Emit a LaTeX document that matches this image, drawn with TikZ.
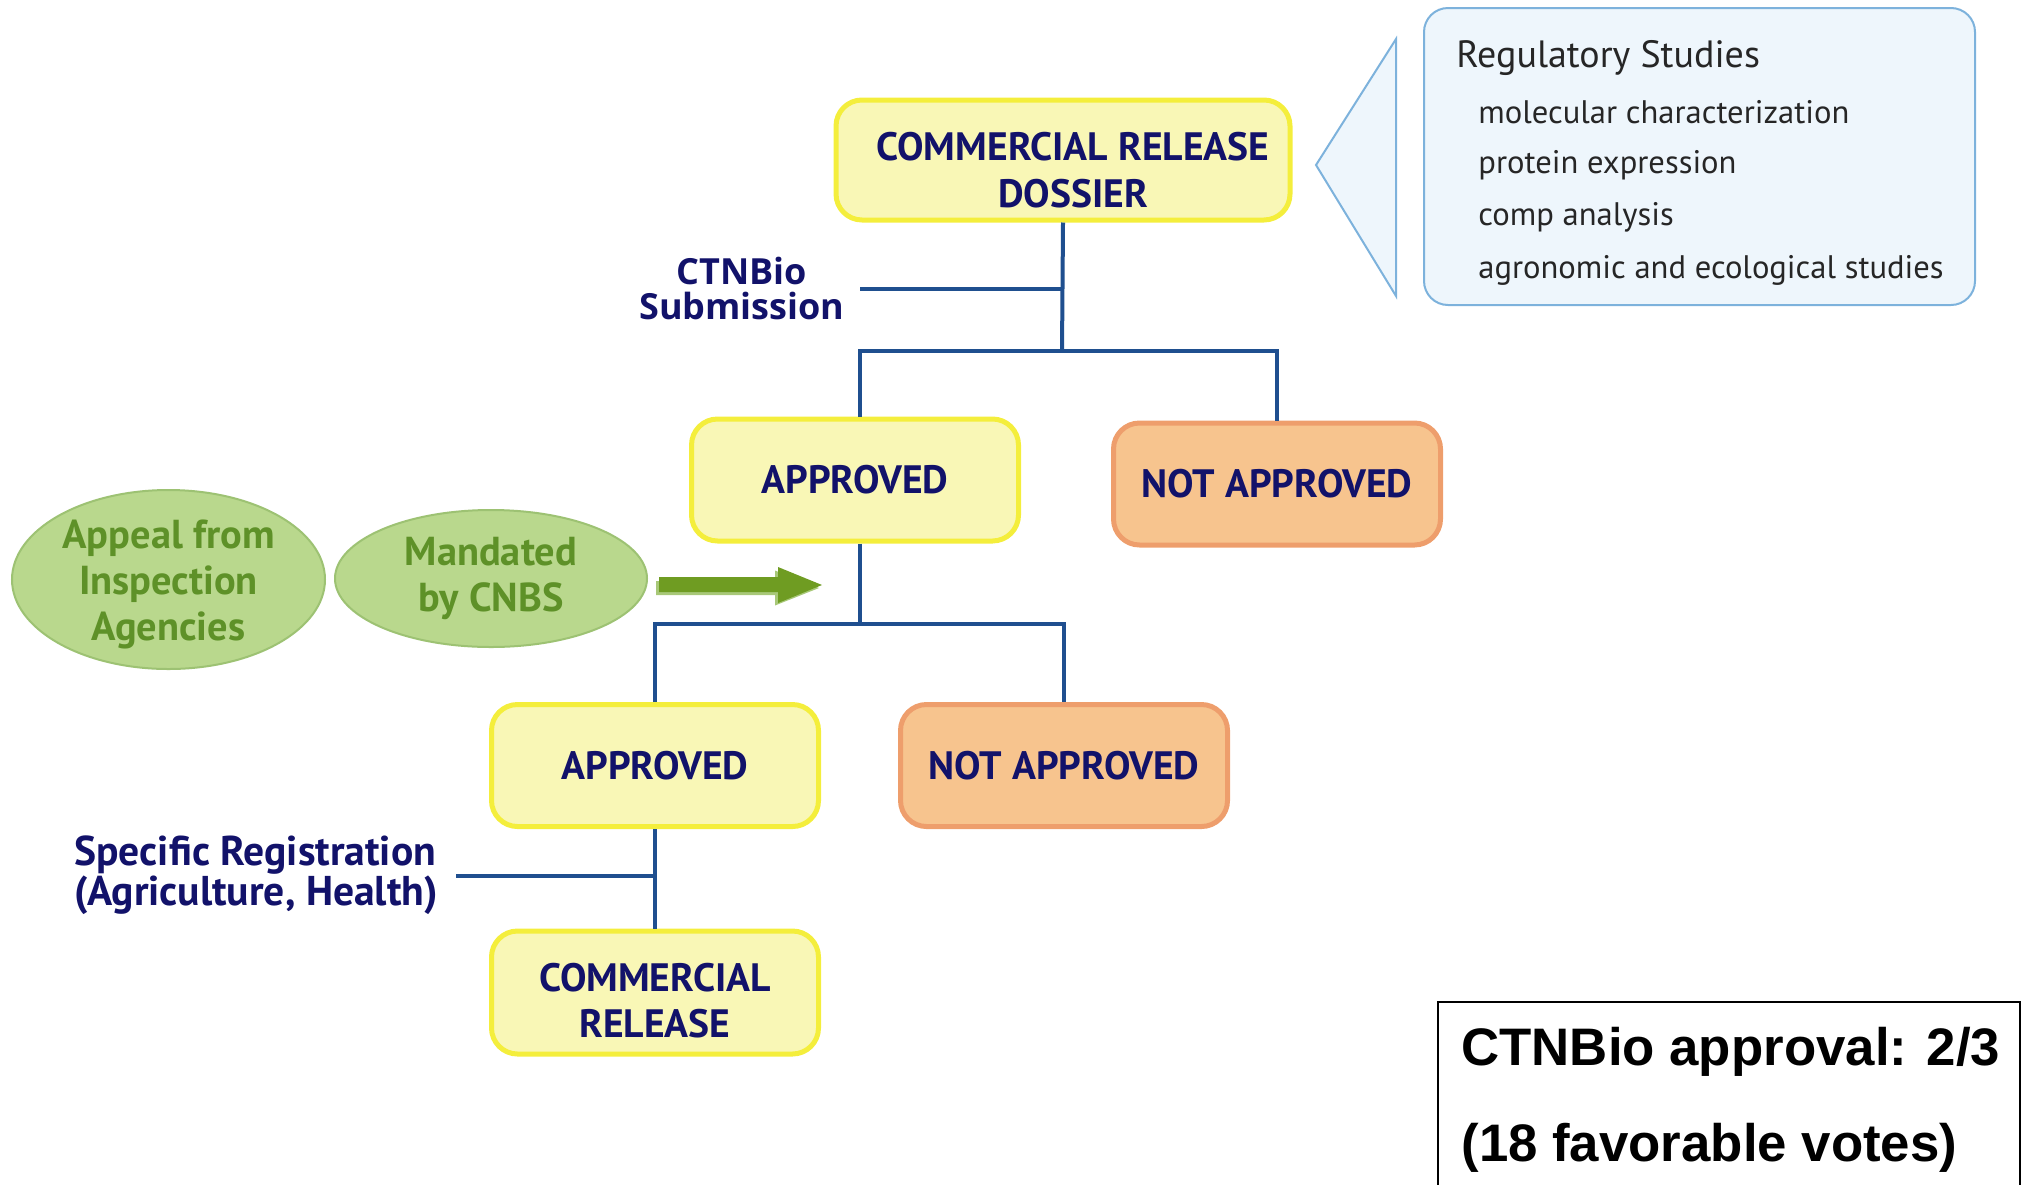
\documentclass[tikz,border=0pt]{standalone}
\usepackage{fontspec}
\setmainfont{PT Sans}
\newfontfamily\arialfont{Liberation Sans}
\newfontfamily\widefont{Open Sans}
\usetikzlibrary{shapes.geometric}
\definecolor{navy}{HTML}{12126A}
\definecolor{boxyellow}{HTML}{F4EE3C}
\definecolor{fillyellow}{HTML}{F9F7B6}
\definecolor{boxorange}{HTML}{EE9E6C}
\definecolor{fillorange}{HTML}{F7C48E}
\definecolor{lineblue}{HTML}{1F4F8F}
\definecolor{ellfill}{HTML}{B9D88D}
\definecolor{elldraw}{HTML}{9DC273}
\definecolor{elltext}{HTML}{5E9128}
\definecolor{arrowgreen}{HTML}{6F9C22}
\definecolor{arrowshadow}{HTML}{A8C878}
\definecolor{calloutfill}{HTML}{EEF6FC}
\definecolor{calloutdraw}{HTML}{7DB2DC}
\begin{document}
\begin{tikzpicture}[x=0.5pt,y=-0.5pt,
  boxfont/.style={font=\bfseries\fontsize{19.8}{23.3}\selectfont},
  ybox/.style={draw=boxyellow, line width=2.5pt, fill=fillyellow, rounded corners=13pt,
    minimum width=163.5pt, minimum height=61pt, inner sep=0pt, align=center, text=navy, boxfont},
  obox/.style={ybox, draw=boxorange, fill=fillorange},
  boxtxt/.style={inner sep=0pt, align=center, text=navy, boxfont},
  conn/.style={draw=lineblue, line width=2pt},
  lbl/.style={text=navy, inner sep=0pt, font=\bfseries\fontsize{20.8}{17}\selectfont},
  gell/.style={ellipse, draw=elldraw, line width=1pt, fill=ellfill, inner sep=0pt, align=center,
    text=elltext, font=\bfseries\fontsize{20.2}{23}\selectfont},
  regtxt/.style={anchor=west, inner sep=0pt, text=black!85, font=\fontsize{16.3}{19}\selectfont}
]
\useasboundingbox (0,0) rectangle (2033,1184);

% callout
\draw[draw=calloutdraw, line width=1pt, fill=calloutfill] (1316,165) -- (1396,39) -- (1396,296) -- cycle;
\node[draw=calloutdraw, line width=1pt, fill=calloutfill, rounded corners=12pt,
  minimum width=275.5pt, minimum height=148.5pt, inner sep=0pt] (callout) at (1699.5,156.5) {};
\node[regtxt, font=\fontsize{19}{22}\selectfont] (reg) at (1456,58) {Regulatory Studies};
\node[regtxt] (r1) at (1478,112) {molecular characterization};
\node[regtxt] (r2) at (1478,165) {protein expression};
\node[regtxt] (r3) at (1478,217) {comp analysis};
\node[regtxt] (r4) at (1478,270) {agronomic and ecological studies};

% boxes
\node[ybox, minimum width=227pt, minimum height=60pt] (dossier) at (1063,160) {};
\node[boxtxt] (dossiertxt) at ([xshift=5pt,yshift=-5pt]dossier.center) {COMMERCIAL RELEASE\\DOSSIER};
\node[ybox] (app1) at (855,480) {APPROVED};
\node[obox] (nap1) at (1277,484) {NOT APPROVED};
\node[ybox] (app2) at (655,765.5) {APPROVED};
\node[obox] (nap2) at (1064,765.5) {NOT APPROVED};
\node[ybox, minimum height=61.5pt] (rel) at (655,992.5) {};
\node[boxtxt] (reltxt) at ([yshift=-4pt]rel.center) {COMMERCIAL\\RELEASE};

% connectors
\coordinate (s1) at (1062,351);
\coordinate (s1l) at (860,351);
\coordinate (sub) at (1062,289);
\coordinate (subend) at (860,289);
\draw[conn] (dossier.south) -- (s1);
\draw[conn] (s1l |- app1.north) -- (s1l) -- (s1) -| (nap1.north);
\draw[conn] (subend) -- (sub);
\node[lbl, font=\widefont\bfseries\fontsize{18}{17.5}\selectfont, anchor=east, align=center] (sublbl) at (845,288) {CTNBio\\Submission};

\coordinate (s2) at (860,624);
\draw[conn] (s2 |- app1.south) -- (s2);
\draw[conn] (app2.north) |- (s2) -| (nap2.north);

\draw[conn] (app2.south) -- (rel.north);
\coordinate (regj) at (655,876);
\coordinate (regend) at (456,876);
\draw[conn] (regend) -- (regj);
\node[lbl, anchor=west, align=left] (reglbl) at (74,875) {Specific Registration\\(Agriculture, Health)};

% ellipses
\node[gell, minimum width=156.5pt, minimum height=89.5pt] (appeal) at (168.5,579.5) {};
\node[inner sep=0pt, align=center, text=elltext, font=\bfseries\fontsize{20.2}{23}\selectfont] (appealtxt) at ([yshift=-2.5pt]appeal.center) {Appeal from\\Inspection\\Agencies};
\node[gell, minimum width=156pt, minimum height=68.5pt] (mand) at (491,578.5) {Mandated\\by CNBS};

% green arrow
\fill[arrowshadow] (656,581) -- (775,581) -- (775,570.5) -- (819,588) -- (775,605.5) -- (775,595) -- (656,595) -- cycle;
\fill[arrowgreen] (659,577) -- (778,577) -- (778,567) -- (822,585) -- (778,603) -- (778,592) -- (659,592) -- cycle;

% vote box
\draw[black, line width=1pt] (1438,1190) -- (1438,1002) -- (2020,1002) -- (2020,1190);
\node[anchor=west, inner sep=0pt, font=\arialfont\bfseries\fontsize{26.4}{30}\selectfont] (v1) at (1461,1052) {CTNBio approval: 2/3};
\node[anchor=west, inner sep=0pt, font=\arialfont\bfseries\fontsize{26.4}{30}\selectfont] (v2) at (1461,1148) {(18 favorable votes)};
\end{tikzpicture}
\end{document}
